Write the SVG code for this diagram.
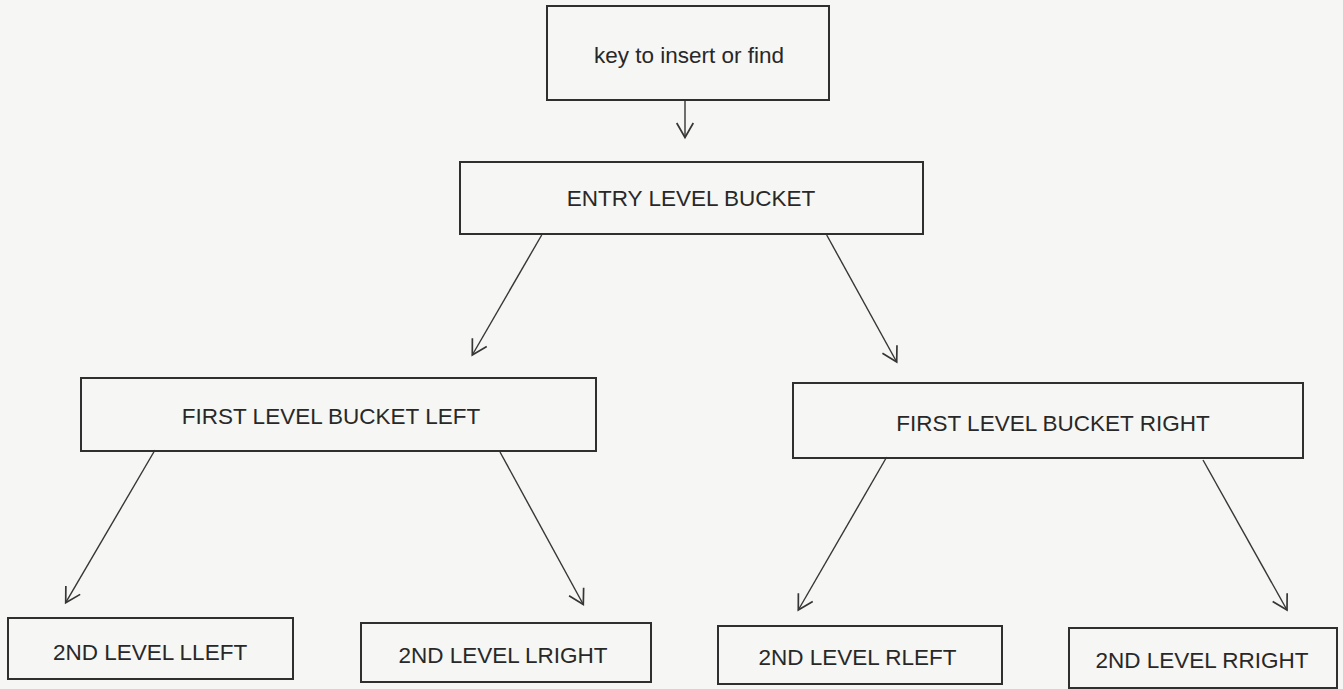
<svg xmlns="http://www.w3.org/2000/svg" width="1343" height="689" viewBox="0 0 1343 689">
  <style>
    .box { fill: none; stroke: #2f2f2f; stroke-width: 2; }
    .lbl { font-family: "Liberation Sans", Arial, sans-serif; font-size: 22.5px; fill: #282828; text-anchor: middle; }
    .conn { fill: none; stroke: #363636; stroke-width: 1.4; marker-end: url(#vhead); }
  </style>
  <defs>
    <marker id="vhead" markerUnits="userSpaceOnUse" viewBox="-17 -10 19 20" refX="0" refY="0" markerWidth="19" markerHeight="20" orient="auto">
      <path d="M -14.5 -8.3 L 0 0 L -14.5 8.3" fill="none" stroke="#363636" stroke-width="1.7"/>
    </marker>
  </defs>
  <rect x="0" y="0" width="1343" height="689" fill="#f6f6f4"/>

  <g id="connectors">
    <line class="conn" x1="685" y1="100" x2="685" y2="137.5"/>
    <line class="conn" x1="541.7" y1="235" x2="472.3" y2="355"/>
    <line class="conn" x1="826.7" y1="235" x2="896.7" y2="362"/>
    <line class="conn" x1="155" y1="450" x2="65.7" y2="602.7"/>
    <line class="conn" x1="500" y1="452" x2="583.3" y2="604.5"/>
    <line class="conn" x1="886.7" y1="457" x2="798.3" y2="610"/>
    <line class="conn" x1="1203" y1="460" x2="1287" y2="610"/>
  </g>

  <g id="node-key">
    <rect class="box" x="547" y="6" width="282" height="94"/>
    <text class="lbl" x="689" y="63">key to insert or find</text>
  </g>
  <g id="node-entry">
    <rect class="box" x="460" y="162" width="463" height="72"/>
    <text class="lbl" x="691" y="206">ENTRY LEVEL BUCKET</text>
  </g>
  <g id="node-first-left">
    <rect class="box" x="81" y="378" width="515" height="73"/>
    <text class="lbl" x="331" y="424">FIRST LEVEL BUCKET LEFT</text>
  </g>
  <g id="node-first-right">
    <rect class="box" x="793" y="383" width="510" height="75"/>
    <text class="lbl" x="1053" y="431">FIRST LEVEL BUCKET RIGHT</text>
  </g>
  <g id="node-lleft">
    <rect class="box" x="8" y="618" width="285" height="61"/>
    <text class="lbl" x="150" y="660">2ND LEVEL LLEFT</text>
  </g>
  <g id="node-lright">
    <rect class="box" x="361" y="623" width="290" height="59"/>
    <text class="lbl" x="503" y="663">2ND LEVEL LRIGHT</text>
  </g>
  <g id="node-rleft">
    <rect class="box" x="718" y="626" width="284" height="58"/>
    <text class="lbl" x="857.5" y="665">2ND LEVEL RLEFT</text>
  </g>
  <g id="node-rright">
    <rect class="box" x="1069" y="628" width="268" height="60"/>
    <text class="lbl" x="1202" y="668">2ND LEVEL RRIGHT</text>
  </g>
</svg>
